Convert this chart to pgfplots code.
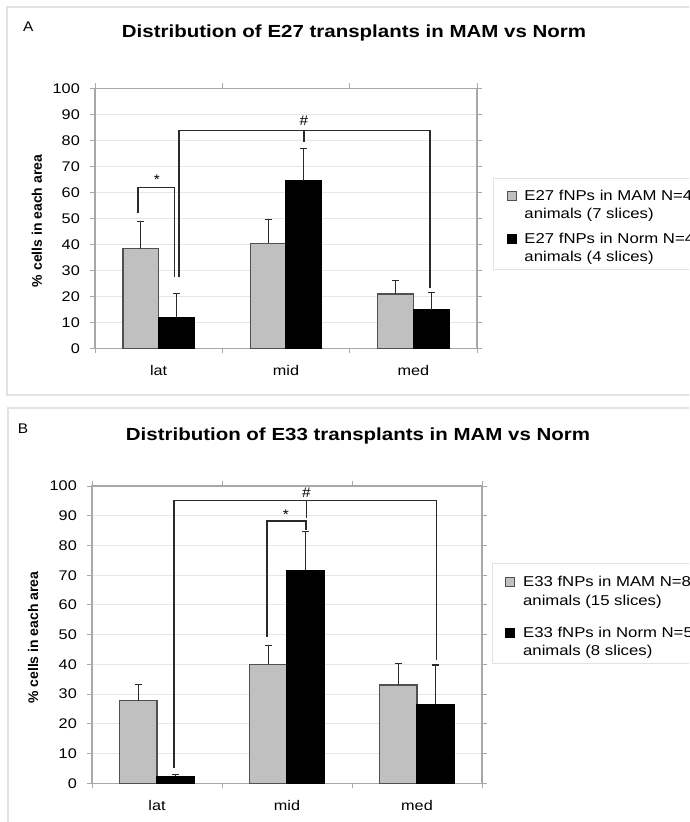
\documentclass[border=0pt]{standalone}
\usepackage{fontspec}
\setmainfont{Liberation Sans}
\usepackage{graphicx}
\usepackage{pgfplots}
\pgfplotsset{compat=1.18}
\definecolor{gbar}{HTML}{C0C0C0}
\definecolor{gedge}{HTML}{505050}
\definecolor{axgray}{HTML}{A8A8A8}
\definecolor{gridgray}{HTML}{E6E6E6}
\definecolor{framegray}{HTML}{E2E2E2}
\definecolor{brk}{HTML}{2A2A2A}
\newcommand\tickfont{\fontsize{14}{16}\selectfont}
\newcommand\sx[1]{\scalebox{1.17}[1]{#1}}
\newcommand\st[1]{\scalebox{1.16}[1]{\tickfont #1}}
\newcommand\legline[2]{\sx{\fontsize{14.3}{18}\selectfont\rule[-5pt]{0pt}{#1}#2}}
\pgfplotsset{
  panel/.style={
    scale only axis, anchor=north west,
    xmin=-0.5, xmax=2.5, ymin=0, ymax=100,
    ytick={0,10,...,100},
    yticklabels={\st{0},\st{10},\st{20},\st{30},\st{40},\st{50},\st{60},\st{70},\st{80},\st{90},\st{100}},
    xtick={-0.5,0.5,1.5,2.5}, xticklabels={},
    extra x ticks={0,1,2}, extra x tick labels={\st{lat},\st{mid},\st{med}},
    extra x tick style={major tick length=0pt, grid=none,
      tick label style={anchor=north, inner sep=0pt, yshift=-17pt}},
    tick align=outside, major tick length=5pt,
    tick style={axgray, line width=0.9pt},
    axis line style={axgray, line width=1.1pt},
    ymajorgrids, grid style={gridgray, line width=0.9pt},
    /pgf/number format/assume math mode=true,
    yticklabel style={anchor=east, inner sep=0pt, xshift=-10pt},
    ylabel={\% cells in each area},
    ylabel style={font=\fontsize{14}{16}\selectfont\bfseries},
    legend cell align=left,
    legend style={draw=framegray, line width=1pt, fill=white,
      cells={anchor=base west, inner sep=0pt}, row sep=0pt, column sep=6pt,
      inner xsep=13pt, inner ysep=4pt, anchor=north west},
  },
  mam/.style={ybar, bar shift=0pt, fill=gbar, draw=gedge, line width=1.2pt,
    legend image code/.code={\draw[fill=gbar, draw=gedge, line width=0.9pt] (0pt,0pt) rectangle (9pt,9pt);},
    error bars/.cd, y dir=plus, y explicit, error mark=-,
    error bar style={line width=1.1pt, brk},
    error mark options={rotate=90, mark size=3.5pt, line width=1.1pt, brk}},
  norm/.style={ybar, bar shift=0pt, fill=black, draw=black, line width=1.2pt,
    legend image code/.code={\draw[fill=black, draw=black, line width=0.9pt] (0pt,0pt) rectangle (9pt,9pt);},
    error bars/.cd, y dir=plus, y explicit, error mark=-,
    error bar style={line width=1.1pt, brk},
    error mark options={rotate=90, mark size=3.5pt, line width=1.1pt, brk}},
}
\pgfplotstableread{
x y e
-0.14 38.3 10.4
0.86 40.4 9.3
1.86 20.9 5.1
}\amam
\pgfplotstableread{
x y e
0.14 12.0 9.0
1.14 64.5 12.2
2.14 14.8 6.7
}\anorm
\pgfplotstableread{
x y e
-0.145 27.8 5.3
0.855 40.0 6.3
1.855 33.1 7.3
}\bmam
\pgfplotstableread{
x y e
0.145 2.4 0.7
1.145 71.6 13.0
2.145 26.6 13.2
}\bnorm
\begin{document}
\begin{tikzpicture}
\useasboundingbox (0,0) rectangle (689pt,-822pt);
\clip (0,0) rectangle (689pt,-822pt);
\fill[white] (0,0) rectangle (689pt,-822pt);
\draw[framegray, line width=1.2pt] (7pt,-7pt) rectangle (720pt,-395pt);
\draw[framegray, line width=1.2pt] (8pt,-408pt) rectangle (720pt,-840pt);
\node[anchor=base, inner sep=0pt, xscale=1.1, font=\fontsize{14}{16}\selectfont] at (28.3pt,-31.7pt) {A};
\node[anchor=base, inner sep=0pt, xscale=1.1, font=\fontsize{14}{16}\selectfont] at (23pt,-433pt) {B};
\node[anchor=base, inner sep=0pt, xscale=1.17, font=\fontsize{17.5}{20}\selectfont\bfseries] at (354pt,-37pt) {Distribution of E27 transplants in MAM vs Norm};
\node[anchor=base, inner sep=0pt, xscale=1.17, font=\fontsize{17.5}{20}\selectfont\bfseries] at (358pt,-440pt) {Distribution of E33 transplants in MAM vs Norm};
% Panel A
\begin{axis}[panel, at={(95pt,-88.3pt)}, width=382pt, height=260pt,
  ylabel style={at={(rel axis cs:-0.152,0.49)}, anchor=center},
  legend style={at={(1.042,0.655)}}]
\addplot[bar width=0.28, mam] table[x=x, y=y, y error=e] {\amam};
\addlegendentry{\legline{20.5pt}{E27 fNPs in MAM N=4}}
\addlegendimage{empty legend}
\addlegendentry{\legline{18pt}{animals (7 slices)}}
\addplot[bar width=0.28, norm] table[x=x, y=y, y error=e] {\anorm};
\addlegendentry{\legline{24pt}{E27 fNPs in Norm N=4}}
\addlegendimage{empty legend}
\addlegendentry{\legline{18pt}{animals (4 slices)}}
\draw[brk, line width=1.6pt] (axis cs:-0.16,52.2) -- (axis cs:-0.16,61.9) -- (axis cs:0.123,61.9) -- (axis cs:0.123,27.3);
\draw[brk, line width=1.6pt] (axis cs:0.162,27.3) -- (axis cs:0.162,83.7) -- (axis cs:2.131,83.7) -- (axis cs:2.131,23.1);
\draw[brk, line width=1.6pt] (axis cs:1.141,83.7) -- (axis cs:1.141,79.5);
\node[font=\fontsize{14}{16}\selectfont, inner sep=0pt, xscale=1.1] at (axis cs:1.141,87.6) {\#};
\node[font=\fontsize{14}{16}\selectfont, inner sep=0pt, xscale=1.1] at (axis cs:-0.015,64.8) {*};
\end{axis}
% Panel B
\begin{axis}[panel, at={(92pt,-486pt)}, width=390pt, height=297.3pt,
  ylabel style={at={(rel axis cs:-0.151,0.49)}, anchor=center},
  legend style={at={(1.025,0.742)}}]
\addplot[bar width=0.29, mam] table[x=x, y=y, y error=e] {\bmam};
\addlegendentry{\legline{21.8pt}{E33 fNPs in MAM N=8}}
\addlegendimage{empty legend}
\addlegendentry{\legline{19pt}{animals (15 slices)}}
\addplot[bar width=0.29, norm] table[x=x, y=y, y error=e] {\bnorm};
\addlegendentry{\legline{31pt}{E33 fNPs in Norm N=5}}
\addlegendimage{empty legend}
\addlegendentry{\legline{18pt}{animals (8 slices)}}
\draw[brk, line width=1.6pt] (axis cs:0.131,5.1) -- (axis cs:0.131,95.1) -- (axis cs:2.15,95.1) -- (axis cs:2.15,41.5);
\draw[brk, line width=1.6pt] (axis cs:1.15,95.1) -- (axis cs:1.15,89.2);
\draw[brk, line width=1.6pt] (axis cs:0.844,49.3) -- (axis cs:0.844,88.3) -- (axis cs:1.144,88.3) -- (axis cs:1.144,85.2);
\node[font=\fontsize{14}{16}\selectfont, inner sep=0pt, xscale=1.1] at (axis cs:1.15,97.8) {\#};
\node[font=\fontsize{14}{16}\selectfont, inner sep=0pt, xscale=1.1] at (axis cs:0.992,90.4) {*};
\end{axis}
\end{tikzpicture}
\end{document}
